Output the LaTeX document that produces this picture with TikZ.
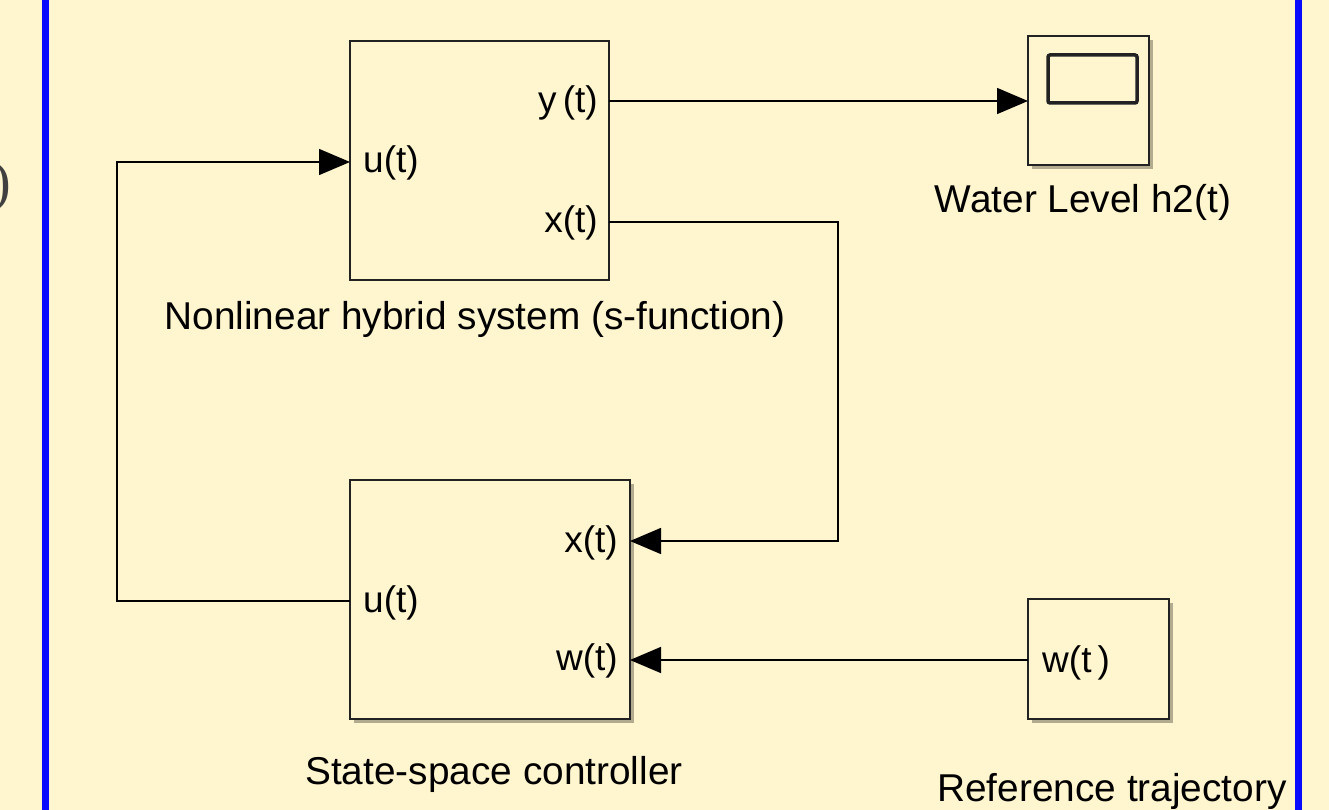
\documentclass[tikz,border=0pt]{standalone}
\usepackage{fontspec}
\setmainfont{Liberation Sans}
\newfontfamily\serifpart{Liberation Serif}
\usetikzlibrary{arrows.meta,shadows}
\definecolor{bgyellow}{HTML}{FFF5CF}
\definecolor{frameblue}{HTML}{0A0AFF}
\definecolor{edge}{HTML}{222222}
\begin{document}
\begin{tikzpicture}[x=1pt,y=-1pt,
  blk/.style={draw=edge, line width=2.5pt, fill=bgyellow, inner sep=0pt},
  shad/.style={drop shadow={shadow xshift=4pt, shadow yshift=-4pt, fill=black, opacity=0.3}},
  wire/.style={line width=1.5pt, draw=black},
  arr/.style={wire, -{Triangle[length=31pt,width=26pt]}},
  port/.style={font=\fontsize{37}{40}\selectfont, inner sep=0pt, text=black},
  captiontext/.style={font=\fontsize{38.8}{44}\selectfont, inner sep=0pt, text=black}]
\useasboundingbox (0,0) rectangle (1329,810);
\fill[bgyellow] (0,0) rectangle (1329,810);
\fill[frameblue] (42,0) rectangle (49,810);
\fill[frameblue] (1295,0) rectangle (1302,810);
\node[anchor=east, inner sep=0pt, text=black!75, font=\serifpart\fontsize{56}{60}\selectfont] (paren) at (11,187) {)};

% blocks
\node[blk, minimum width=259pt, minimum height=239pt] (sys) at (479.5,160.5) {};
\node[blk, shad, minimum width=280pt, minimum height=239pt] (ctrl) at (490,599.5) {};
\node[blk, shad, minimum width=121pt, minimum height=129pt] (scope) at (1088.5,100.5) {};
\node[blk, shad, minimum width=141pt, minimum height=120pt] (ref) at (1098.5,659) {};
\draw[edge, line width=3.5pt, rounded corners=2pt] (1048,55) rectangle (1137,103);

% ports
\coordinate (sys-u) at (350,162);
\coordinate (sys-y) at (609,101);
\coordinate (sys-x) at (609,222);
\coordinate (scope-in) at (1028,101);
\coordinate (ctrl-x) at (630,541);
\coordinate (ctrl-u) at (350,601);
\coordinate (ctrl-w) at (630,660);
\coordinate (ref-out) at (1028,660);

\node[port, anchor=east] (lsy) at (598,103) {y\,(t)};
\node[port, anchor=west] (lsu) at (363,163) {u(t)};
\node[port, anchor=east] (lsx) at (598,223) {x(t)};
\node[port, anchor=east] (lcx) at (618,543) {x(t)};
\node[port, anchor=west] (lcu) at (363,603) {u(t)};
\node[port, anchor=east] (lcw) at (618,661) {w(t)};
\node[port, anchor=west] (lrw) at (1042,663) {w(t\,)};

% captions
\node[captiontext] (csys) at (475,319) {Nonlinear hybrid system (s-function)};
\node[captiontext] (cscope) at (1083,202) {Water Level h2(t)};
\node[captiontext] (cctrl) at (494,774) {State-space controller};
\node[captiontext] (cref) at (1112,791) {Reference trajectory};

% connectors
\draw[arr] (sys-y) -- (scope-in);
\draw[arr] (sys-x) -| ([xshift=208pt]ctrl-x) -- (ctrl-x);
\draw[arr] (ctrl-u) -| ([xshift=-233pt]sys-u) -- (sys-u);
\draw[arr] (ref-out) -- (ctrl-w);
\end{tikzpicture}
\end{document}
